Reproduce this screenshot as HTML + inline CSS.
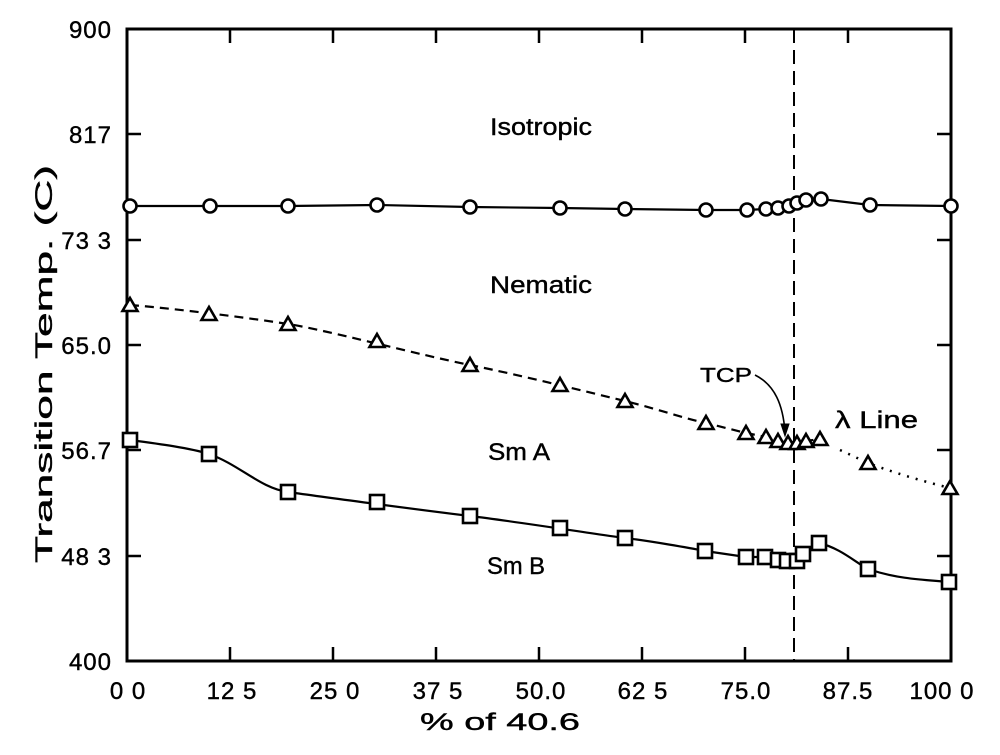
<!DOCTYPE html>
<html><head><style>body{margin:0;background:#fff}svg{display:block}text{font-family:"Liberation Sans",sans-serif;fill:#000;stroke:#000;stroke-width:0.4}</style></head><body>
<svg width="1000" height="755" viewBox="0 0 1000 755">
<defs>
<circle id="c" r="6.5" fill="#fff" stroke="#000" stroke-width="2.6"/>
<path id="t" d="M0,-7 L7.5,6 L-7.5,6 Z" fill="#fff" stroke="#000" stroke-width="2.6"/>
<rect id="s" x="-7" y="-7" width="14" height="14" fill="#fff" stroke="#000" stroke-width="2.6"/>
</defs>
<rect x="127" y="29" width="824" height="632" fill="none" stroke="#000" stroke-width="3"/>
<g stroke="#000" stroke-width="2.5">
<path d="M230,661v-14M333,661v-14M436,661v-14M539,661v-14M642,661v-14M745,661v-14M848,661v-14M230,29v14M333,29v14M436,29v14M539,29v14M642,29v14M745,29v14M848,29v14"/>
<path d="M127,134h14M127,240h14M127,345h14M127,450h14M127,556h14M951,134h-14M951,240h-14M951,345h-14M951,450h-14M951,556h-14"/>
</g>
<line x1="794" y1="29" x2="794" y2="661" stroke="#000" stroke-width="2" stroke-dasharray="14,7"/>
<g fill="none" stroke="#000" stroke-width="2.2">
<polyline points="130,206 210,206 288,206 377,205 470,207 560,208 625,209 706,210 747,210 766,209 778,208 789,206 797,203 806,200 821,199 870,205 951,206"/>
<path d="M130,305 C170,308 250,318 288,324 S420,355 470,365 S600,395 625,401 S690,420 706,423 L746,433 766,437 778,441 788,443 797,443 806,441 820,439" stroke-dasharray="9,6"/>
<path d="M840,450 L868,463 C900,475 930,483 950,488" stroke-dasharray="2,7" stroke-width="2.5"/>
<path d="M130,440 C160,444 190,448 209,454 C240,465 260,488 288,492 S420,510 470,516 S600,535 625,538 S690,548 705,551 L746,557 765,557 778,560 787,561 797,561 803,554 819,543 C840,548 855,562 868,569 C900,580 930,580 949,582"/>
<path d="M755,375 C775,385 783,405 785,432" stroke-width="1.6"/>
<path d="M781,424 L785,436 L789,424 Z" fill="#000" stroke-width="1"/>
</g>
<g>
<use href="#c" x="130" y="206"/><use href="#c" x="210" y="206"/><use href="#c" x="288" y="206"/><use href="#c" x="377" y="205"/><use href="#c" x="470" y="207"/><use href="#c" x="560" y="208"/><use href="#c" x="625" y="209"/><use href="#c" x="706" y="210"/><use href="#c" x="747" y="210"/><use href="#c" x="766" y="209"/><use href="#c" x="778" y="208"/><use href="#c" x="789" y="206"/><use href="#c" x="797" y="203"/><use href="#c" x="806" y="200"/><use href="#c" x="821" y="199"/><use href="#c" x="870" y="205"/><use href="#c" x="951" y="206"/>
<use href="#t" x="130" y="305"/><use href="#t" x="209" y="314"/><use href="#t" x="288" y="324"/><use href="#t" x="377" y="341"/><use href="#t" x="470" y="365"/><use href="#t" x="560" y="385"/><use href="#t" x="625" y="401"/><use href="#t" x="706" y="423"/><use href="#t" x="746" y="433"/><use href="#t" x="766" y="437"/><use href="#t" x="778" y="441"/><use href="#t" x="788" y="443"/><use href="#t" x="797" y="443"/><use href="#t" x="806" y="441"/><use href="#t" x="820" y="439"/><use href="#t" x="868" y="463"/><use href="#t" x="950" y="488"/>
<use href="#s" x="130" y="440"/><use href="#s" x="209" y="454"/><use href="#s" x="288" y="492"/><use href="#s" x="377" y="502"/><use href="#s" x="470" y="516"/><use href="#s" x="560" y="528"/><use href="#s" x="625" y="538"/><use href="#s" x="705" y="551"/><use href="#s" x="746" y="557"/><use href="#s" x="765" y="557"/><use href="#s" x="778" y="560"/><use href="#s" x="787" y="561"/><use href="#s" x="797" y="561"/><use href="#s" x="803" y="554"/><use href="#s" x="819" y="543"/><use href="#s" x="868" y="569"/><use href="#s" x="949" y="582"/>
</g>
<g font-size="24" text-anchor="end" letter-spacing="1">
<text x="112" y="38">900</text><text x="112" y="143">817</text><text x="112" y="249">73 3</text><text x="112" y="354">65.0</text><text x="112" y="459">56.7</text><text x="112" y="565">48 3</text><text x="112" y="670">400</text>
</g>
<g font-size="24" text-anchor="middle" letter-spacing="1">
<text x="128" y="699">0 0</text><text x="232" y="699">12 5</text><text x="335" y="699">25 0</text><text x="438" y="699">37 5</text><text x="541" y="699">50.0</text><text x="643" y="699">62 5</text><text x="746" y="699">75.0</text><text x="848" y="699">87.5</text><text x="942" y="699">100 0</text>
</g>
<g font-size="24" lengthAdjust="spacingAndGlyphs">
<text x="420" y="730" textLength="160" lengthAdjust="spacingAndGlyphs">% of 40.6</text>
<text x="490" y="135" textLength="102" lengthAdjust="spacingAndGlyphs">Isotropic</text><text x="490" y="293" textLength="102" lengthAdjust="spacingAndGlyphs">Nematic</text><text x="488" y="460" textLength="62" lengthAdjust="spacingAndGlyphs">Sm A</text><text x="487" y="574" textLength="58" lengthAdjust="spacingAndGlyphs">Sm B</text>
<text x="700" y="382" font-size="20" textLength="52" lengthAdjust="spacingAndGlyphs">TCP</text><text x="835" y="428" textLength="83" lengthAdjust="spacingAndGlyphs">λ  Line</text>
</g>
<text font-size="24" transform="translate(52,563) rotate(-90)" textLength="398" lengthAdjust="spacingAndGlyphs">Transition Temp. (C)</text>
</svg>
</body></html>
